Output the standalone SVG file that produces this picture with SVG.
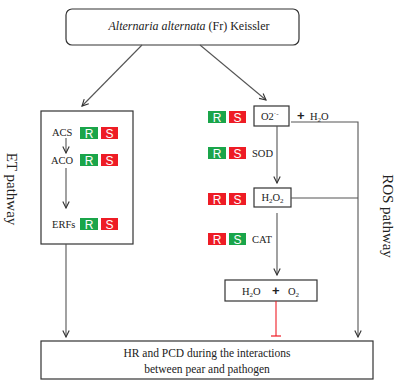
<svg xmlns="http://www.w3.org/2000/svg" width="403" height="387" viewBox="0 0 403 387">
<style>
text{font-family:"Liberation Serif","Times New Roman",serif;fill:#222}
.box{fill:#fff;stroke:#333;stroke-width:1.2}
.ln{stroke:#555;stroke-width:1.1;fill:none}
.g{fill:#1aa54a}
.r{fill:#ee1c25}
.rs{font-family:"Liberation Sans",Arial,sans-serif;fill:#fff;font-size:12px;text-anchor:middle}
.t{font-size:10.5px}
.plus{font-family:"Liberation Sans",Arial,sans-serif;font-size:13px;font-weight:bold}
</style>
<defs>
<marker id="ah" viewBox="0 0 10 10" refX="9" refY="5" markerWidth="8" markerHeight="8" markerUnits="userSpaceOnUse" orient="auto">
<path d="M1,1 L9,5 L1,9" fill="none" stroke="#333" stroke-width="1.4"/>
</marker>
</defs>
<rect width="403" height="387" fill="#fff"/>
<g id="source">
<rect class="box" x="66" y="9" width="233" height="36" rx="6"/>
<text x="189" y="30" font-size="12" text-anchor="middle"><tspan font-style="italic">Alternaria alternata</tspan> (Fr) Keissler</text>
</g>
<g id="et-box">
<rect class="box" x="41" y="111" width="92" height="133"/>
<text class="t" x="52" y="136">ACS</text>
<rect class="g" x="80" y="127" width="18" height="12"/><text class="rs" x="89" y="137.5">R</text>
<rect class="r" x="101" y="127" width="17" height="12"/><text class="rs" x="109.5" y="137.5">S</text>
<text class="t" x="51" y="164">ACO</text>
<rect class="g" x="80" y="154" width="18" height="12"/><text class="rs" x="89" y="164.5">R</text>
<rect class="r" x="101" y="154" width="17" height="12"/><text class="rs" x="109.5" y="164.5">S</text>
<text class="t" x="52" y="228">ERFs</text>
<rect class="g" x="80" y="218" width="18" height="12"/><text class="rs" x="89" y="228.5">R</text>
<rect class="r" x="101" y="218" width="17" height="12"/><text class="rs" x="109.5" y="228.5">S</text>
</g>
<g id="et-label">
<text x="12" y="189" font-size="15" text-anchor="middle" dominant-baseline="central" transform="rotate(90 12 189)">ET pathway</text>
</g>
<g id="o2">
<rect class="g" x="208" y="111" width="18" height="12"/><text class="rs" x="217" y="121.5">R</text>
<rect class="r" x="229" y="111" width="17" height="12"/><text class="rs" x="237.5" y="121.5">S</text>
<rect class="box" x="254" y="106" width="35" height="20"/>
<text class="t" x="261" y="120">O2<tspan font-size="7" dy="-4">·-</tspan></text>
<text class="plus" x="297" y="120">+</text>
<text class="t" x="310" y="120">H<tspan font-size="7" dy="2">2</tspan><tspan dy="-2">O</tspan></text>
</g>
<g id="sod">
<rect class="g" x="208" y="147" width="18" height="12"/><text class="rs" x="217" y="157.5">R</text>
<rect class="r" x="229" y="147" width="17" height="12"/><text class="rs" x="237.5" y="157.5">S</text>
<text class="t" x="252" y="156.5">SOD</text>
</g>
<g id="h2o2">
<rect class="r" x="208" y="193" width="18" height="12"/><text class="rs" x="217" y="203.5">R</text>
<rect class="r" x="229" y="193" width="17" height="12"/><text class="rs" x="237.5" y="203.5">S</text>
<rect class="box" x="254" y="188" width="37" height="19"/>
<text class="t" x="272.5" y="201" text-anchor="middle">H<tspan font-size="7" dy="2">2</tspan><tspan dy="-2">O</tspan><tspan font-size="7" dy="2">2</tspan></text>
</g>
<g id="cat">
<rect class="r" x="208" y="233" width="18" height="12"/><text class="rs" x="217" y="243.5">R</text>
<rect class="g" x="229" y="233" width="17" height="12"/><text class="rs" x="237.5" y="243.5">S</text>
<text class="t" x="252" y="242.5">CAT</text>
</g>
<g id="products">
<rect class="box" x="225" y="280" width="92" height="21"/>
<text class="t" x="242" y="294.5">H<tspan font-size="7" dy="2">2</tspan><tspan dy="-2">O</tspan></text>
<text class="plus" x="272" y="295">+</text>
<text class="t" x="288" y="294.5">O<tspan font-size="7" dy="2">2</tspan></text>
</g>
<g id="ros-label">
<text x="388" y="216" font-size="15" text-anchor="middle" dominant-baseline="central" transform="rotate(90 388 216)">ROS pathway</text>
</g>
<g id="outcome">
<rect class="box" x="41" y="341" width="332" height="38"/>
<text x="207" y="357" font-size="11.5" text-anchor="middle">HR and PCD during the interactions</text>
<text x="207" y="372.5" font-size="11.5" text-anchor="middle">between pear and pathogen</text>
</g>
<g id="connectors">
<line class="ln" x1="142" y1="45" x2="82" y2="106" marker-end="url(#ah)"/>
<line class="ln" x1="200" y1="45" x2="266" y2="100" marker-end="url(#ah)"/>
<line class="ln" x1="66" y1="138" x2="66" y2="153" marker-end="url(#ah)"/>
<line class="ln" x1="66" y1="168" x2="66" y2="208" marker-end="url(#ah)"/>
<line class="ln" x1="66" y1="244" x2="66" y2="337" marker-end="url(#ah)"/>
<line class="ln" x1="277" y1="126" x2="277" y2="183" marker-end="url(#ah)"/>
<line class="ln" x1="277" y1="213" x2="277" y2="275" marker-end="url(#ah)"/>
<polyline class="ln" points="291,122 358,122 358,337" marker-end="url(#ah)"/>
<line class="ln" x1="291" y1="198" x2="358" y2="198"/>
<line x1="276" y1="301" x2="276" y2="336" stroke="#ee1c25" stroke-width="1.1"/>
<line x1="271" y1="336" x2="281" y2="336" stroke="#ee1c25" stroke-width="1.2"/>
</g>
</svg>
